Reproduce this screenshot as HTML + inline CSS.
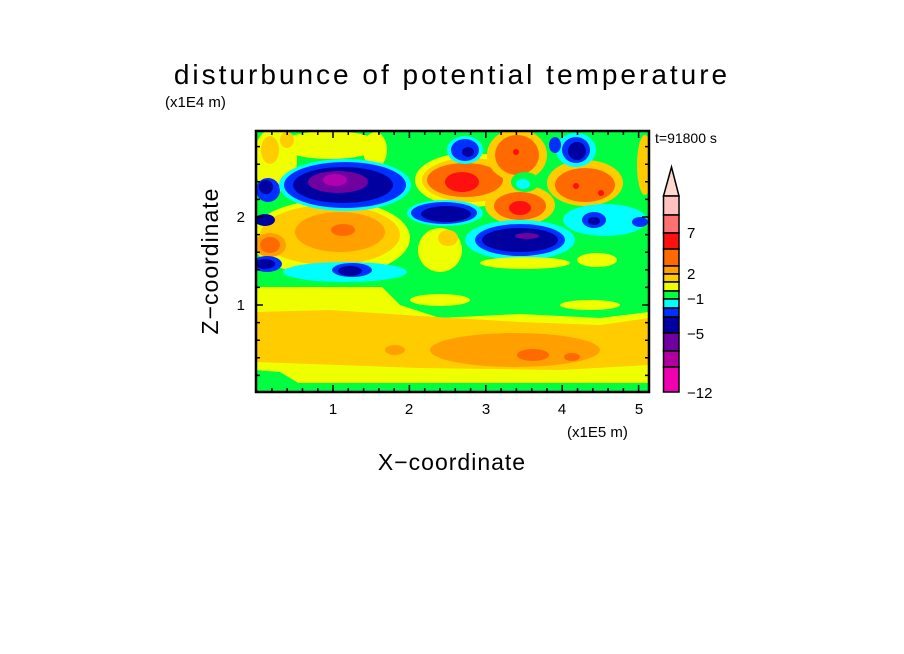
<!DOCTYPE html>
<html><head><style>
html,body{margin:0;padding:0;background:#fff;}
svg{display:block;font-family:"Liberation Sans",sans-serif;}
</style></head><body>
<svg width="904" height="654" viewBox="0 0 904 654" xmlns="http://www.w3.org/2000/svg">
<rect width="904" height="654" fill="#fff"/>
<text x="452" y="84" font-size="28" text-anchor="middle" letter-spacing="3">disturbunce of potential temperature</text>
<text x="165" y="107" font-size="15">(x1E4 m)</text>
<text x="655" y="143" font-size="14">t=91800 s</text>
<text x="567" y="437" font-size="15">(x1E5 m)</text>
<text x="452" y="470" font-size="23" text-anchor="middle" letter-spacing="1">X−coordinate</text>
<text transform="translate(218,261) rotate(-90)" font-size="23" text-anchor="middle" letter-spacing="1">Z−coordinate</text>
<defs><clipPath id="c"><rect x="256" y="131" width="393" height="261"/></clipPath></defs>
<g clip-path="url(#c)">
<rect x="256" y="131" width="393" height="261" fill="#00ff40"/>
<!-- lower bands -->
<rect x="256" y="287" width="393" height="98" fill="#f0ff00"/>
<path d="M380 285 L649 285 L649 312 L600 318 L520 314 L440 318 L400 305 Z" fill="#00ff40"/>
<ellipse cx="440" cy="300" rx="30" ry="6" fill="#f0ff00"/>
<ellipse cx="590" cy="305" rx="30" ry="5" fill="#f0ff00"/>
<path d="M256 312 L330 310 L420 316 L520 322 L600 325 L649 318 L649 365 L560 370 L420 368 L256 362 Z" fill="#ffcc00"/>
<ellipse cx="515" cy="350" rx="85" ry="17" fill="#ffa000"/>
<ellipse cx="395" cy="350" rx="10" ry="5" fill="#ffa000"/>
<ellipse cx="533" cy="355" rx="16" ry="6" fill="#ff6a00"/>
<ellipse cx="572" cy="357" rx="8" ry="4" fill="#ff6a00"/>
<rect x="256" y="383" width="393" height="9" fill="#00ff40"/>
<path d="M256 370 L280 372 L300 384 L256 384 Z" fill="#00ff40"/>
<!-- upper left -->
<ellipse cx="275" cy="160" rx="22" ry="32" fill="#f0ff00"/>
<ellipse cx="330" cy="145" rx="50" ry="14" fill="#f0ff00"/>
<ellipse cx="375" cy="150" rx="12" ry="18" fill="#f0ff00"/>
<ellipse cx="270" cy="150" rx="9" ry="14" fill="#ffcc00"/>
<ellipse cx="287" cy="140" rx="7" ry="8" fill="#ffcc00"/>
<ellipse cx="330" cy="238" rx="80" ry="38" fill="#f0ff00"/>
<ellipse cx="330" cy="235" rx="70" ry="30" fill="#ffcc00"/>
<ellipse cx="340" cy="232" rx="45" ry="20" fill="#ffa000"/>
<ellipse cx="270" cy="245" rx="16" ry="12" fill="#ffa000"/>
<ellipse cx="270" cy="245" rx="10" ry="8" fill="#ff6a00"/>
<ellipse cx="343" cy="230" rx="12" ry="6" fill="#ff6a00"/>
<ellipse cx="345" cy="272" rx="62" ry="10" fill="#00ffff"/>
<ellipse cx="352" cy="270" rx="20" ry="7" fill="#0030ff"/>
<ellipse cx="350" cy="271" rx="12" ry="5" fill="#0000a0"/>
<ellipse cx="267" cy="264" rx="15" ry="8" fill="#0030ff"/>
<ellipse cx="265" cy="264" rx="10" ry="5" fill="#0000a0"/>
<ellipse cx="268" cy="190" rx="12" ry="12" fill="#0030ff"/>
<ellipse cx="266" cy="187" rx="7" ry="7" fill="#0000a0"/>
<ellipse cx="265" cy="220" rx="10" ry="6" fill="#0000a0"/>
<ellipse cx="345" cy="185" rx="66" ry="26" fill="#00ffff"/>
<ellipse cx="345" cy="185" rx="61" ry="23" fill="#0030ff"/>
<ellipse cx="343" cy="185" rx="50" ry="18" fill="#0000a0"/>
<ellipse cx="338" cy="182" rx="30" ry="11" fill="#7000a0"/>
<ellipse cx="335" cy="180" rx="12" ry="6" fill="#b000b0"/>
<!-- upper right -->
<ellipse cx="470" cy="180" rx="55" ry="27" fill="#f0ff00"/>
<ellipse cx="470" cy="180" rx="48" ry="22" fill="#ffcc00"/>
<ellipse cx="465" cy="180" rx="38" ry="17" fill="#ff6a00"/>
<ellipse cx="462" cy="182" rx="17" ry="10" fill="#ff1010"/>
<ellipse cx="517" cy="155" rx="30" ry="26" fill="#ffcc00"/>
<ellipse cx="517" cy="155" rx="22" ry="20" fill="#ff6a00"/>
<circle cx="516" cy="152" r="3" fill="#ff1010"/>
<ellipse cx="520" cy="205" rx="35" ry="20" fill="#ffcc00"/>
<ellipse cx="520" cy="206" rx="26" ry="14" fill="#ff6a00"/>
<ellipse cx="520" cy="208" rx="11" ry="7" fill="#ff1010"/>
<ellipse cx="525" cy="182" rx="14" ry="10" fill="#00ff40"/>
<ellipse cx="523" cy="184" rx="7" ry="5" fill="#00ffff"/>
<ellipse cx="585" cy="183" rx="38" ry="23" fill="#ffcc00"/>
<ellipse cx="585" cy="185" rx="30" ry="17" fill="#ff6a00"/>
<circle cx="576" cy="186" r="3" fill="#ff1010"/>
<circle cx="601" cy="193" r="3" fill="#ff1010"/>
<ellipse cx="445" cy="213" rx="38" ry="13" fill="#00ffff"/>
<ellipse cx="444" cy="213" rx="33" ry="11" fill="#0030ff"/>
<ellipse cx="446" cy="214" rx="25" ry="8" fill="#0000a0"/>
<ellipse cx="465" cy="150" rx="18" ry="14" fill="#00ffff"/>
<ellipse cx="465" cy="150" rx="14" ry="11" fill="#0030ff"/>
<ellipse cx="468" cy="152" rx="6" ry="5" fill="#0000a0"/>
<ellipse cx="576" cy="150" rx="20" ry="17" fill="#00ffff"/>
<ellipse cx="576" cy="150" rx="14" ry="13" fill="#0030ff"/>
<ellipse cx="577" cy="151" rx="9" ry="9" fill="#0000a0"/>
<ellipse cx="555" cy="145" rx="6" ry="8" fill="#0030ff"/>
<ellipse cx="605" cy="220" rx="42" ry="16" fill="#00ffff"/>
<ellipse cx="594" cy="220" rx="12" ry="8" fill="#0030ff"/>
<ellipse cx="594" cy="221" rx="6" ry="4" fill="#0000a0"/>
<ellipse cx="640" cy="222" rx="8" ry="5" fill="#0030ff"/>
<ellipse cx="645" cy="165" rx="8" ry="30" fill="#ffcc00"/>
<ellipse cx="520" cy="240" rx="55" ry="20" fill="#00ffff"/>
<ellipse cx="520" cy="240" rx="45" ry="16" fill="#0030ff"/>
<ellipse cx="520" cy="240" rx="38" ry="12" fill="#0000a0"/>
<ellipse cx="527" cy="236" rx="12" ry="3" fill="#7000a0"/>
<ellipse cx="440" cy="250" rx="22" ry="22" fill="#f0ff00"/>
<ellipse cx="448" cy="238" rx="10" ry="8" fill="#ffcc00"/>
<ellipse cx="525" cy="263" rx="45" ry="6" fill="#f0ff00"/>
<ellipse cx="597" cy="260" rx="20" ry="7" fill="#f0ff00"/>
</g>
<!-- frame -->
<rect x="256" y="131" width="393" height="261" fill="none" stroke="#000" stroke-width="2.5"/>
<g stroke="#000" stroke-width="1.5">
<path d="M271.9 392v-4M287.2 392v-4M302.5 392v-4M317.8 392v-4M333 392v-7M348.3 392v-4M363.6 392v-4M378.9 392v-4M394.2 392v-4M409.4 392v-7M424.7 392v-4M440 392v-4M455.3 392v-4M470.6 392v-4M485.8 392v-7M501.1 392v-4M516.4 392v-4M531.7 392v-4M547 392v-4M562.2 392v-7M577.5 392v-4M592.8 392v-4M608.1 392v-4M623.4 392v-4M638.6 392v-7"/>
<path d="M271.9 131v4M287.2 131v4M302.5 131v4M317.8 131v4M333 131v7M348.3 131v4M363.6 131v4M378.9 131v4M394.2 131v4M409.4 131v7M424.7 131v4M440 131v4M455.3 131v4M470.6 131v4M485.8 131v7M501.1 131v4M516.4 131v4M531.7 131v4M547 131v4M562.2 131v7M577.5 131v4M592.8 131v4M608.1 131v4M623.4 131v4M638.6 131v7"/>
<path d="M256 375.4h4M256 357.8h4M256 340.2h4M256 322.6h4M256 305h7M256 287.4h4M256 269.8h4M256 252.2h4M256 234.6h4M256 217h7M256 199.4h4M256 181.8h4M256 164.2h4M256 146.6h4"/>
<path d="M649 375.4h-4M649 357.8h-4M649 340.2h-4M649 322.6h-4M649 305h-7M649 287.4h-4M649 269.8h-4M649 252.2h-4M649 234.6h-4M649 217h-7M649 199.4h-4M649 181.8h-4M649 164.2h-4M649 146.6h-4"/>
</g>
<g font-size="15" text-anchor="middle">
<text x="333" y="414">1</text><text x="409" y="414">2</text><text x="486" y="414">3</text><text x="562" y="414">4</text><text x="639" y="414">5</text>
</g>
<g font-size="15" text-anchor="end">
<text x="245" y="310">1</text><text x="245" y="222">2</text>
</g>
<!-- colorbar -->
<g stroke="#000" stroke-width="1.5">
<path d="M663.5 196 L671.5 167 L679 196 Z" fill="#ffd8d0"/>
<rect x="663.5" y="196" width="15.5" height="19" fill="#ffc0c0"/>
<rect x="663.5" y="215" width="15.5" height="18" fill="#ff7070"/>
<rect x="663.5" y="233" width="15.5" height="16" fill="#ff1010"/>
<rect x="663.5" y="249" width="15.5" height="17" fill="#ff6a00"/>
<rect x="663.5" y="266" width="15.5" height="8" fill="#ffa000"/>
<rect x="663.5" y="274" width="15.5" height="8" fill="#ffcc00"/>
<rect x="663.5" y="282" width="15.5" height="9" fill="#f0ff00"/>
<rect x="663.5" y="291" width="15.5" height="8" fill="#00ff40"/>
<rect x="663.5" y="299" width="15.5" height="9" fill="#00ffff"/>
<rect x="663.5" y="308" width="15.5" height="9" fill="#0030ff"/>
<rect x="663.5" y="317" width="15.5" height="16" fill="#0000a0"/>
<rect x="663.5" y="333" width="15.5" height="18" fill="#7000a0"/>
<rect x="663.5" y="351" width="15.5" height="16" fill="#b000a0"/>
<rect x="663.5" y="367" width="15.5" height="25" fill="#f000b0"/>
</g>
<g font-size="15">
<text x="687" y="238">7</text><text x="687" y="279">2</text><text x="687" y="304">−1</text><text x="687" y="339">−5</text><text x="687" y="398">−12</text>
</g>
</svg>
</body></html>
